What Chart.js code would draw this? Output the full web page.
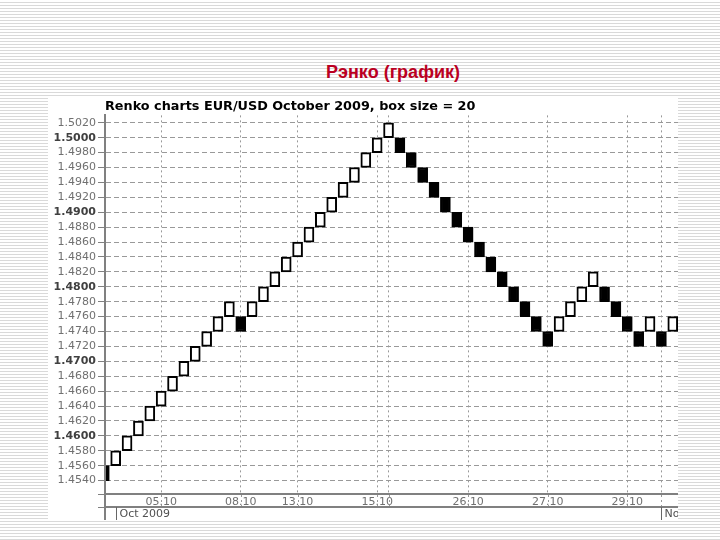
<!DOCTYPE html>
<html>
<head>
<meta charset="utf-8">
<title>Рэнко (график)</title>
<script src="https://cdn.jsdelivr.net/npm/chart.js@4.4.1/dist/chart.umd.min.js"></script>
<style>
  html, body { margin: 0; padding: 0; }
  body {
    width: 720px;
    height: 540px;
    position: relative;
    overflow: hidden;
    background: repeating-linear-gradient(to bottom, #ffffff 0px, #ffffff 2px, #d9d9d9 2px, #d9d9d9 3px);
    font-family: "Liberation Sans", Arial, sans-serif;
  }
  #slideTitle {
    position: absolute;
    left: 243px;
    width: 300px;
    top: 62px;
    line-height: 20px;
    text-align: center;
    font-size: 18px;
    font-weight: bold;
    color: #bb0022;
  }
  #renko {
    position: absolute;
    left: 48px;
    top: 98px;
    background: #ffffff;
  }
</style>
</head>
<body>
<div id="slideTitle">Рэнко (график)</div>
<canvas id="renko" width="630" height="422"></canvas>
<script>
// Renko bricks, left to right: price where each brick starts and ends
const brickOpen = [
  1.4560, 1.4560, 1.4580, 1.4600, 1.4620, 1.4640, 1.4660, 1.4680, 1.4700, 1.4720,
  1.4740, 1.4760, 1.4760, 1.4760, 1.4780, 1.4800, 1.4820, 1.4840, 1.4860, 1.4880,
  1.4900, 1.4920, 1.4940, 1.4960, 1.4980, 1.5000, 1.5000, 1.4980, 1.4960, 1.4940,
  1.4920, 1.4900, 1.4880, 1.4860, 1.4840, 1.4820, 1.4800, 1.4780, 1.4760, 1.4740,
  1.4740, 1.4760, 1.4780, 1.4800, 1.4800, 1.4780, 1.4760, 1.4740, 1.4740, 1.4740,
  1.4740
];
const brickClose = [
  1.4540, 1.4580, 1.4600, 1.4620, 1.4640, 1.4660, 1.4680, 1.4700, 1.4720, 1.4740,
  1.4760, 1.4780, 1.4740, 1.4780, 1.4800, 1.4820, 1.4840, 1.4860, 1.4880, 1.4900,
  1.4920, 1.4940, 1.4960, 1.4980, 1.5000, 1.5020, 1.4980, 1.4960, 1.4940, 1.4920,
  1.4900, 1.4880, 1.4860, 1.4840, 1.4820, 1.4800, 1.4780, 1.4760, 1.4740, 1.4720,
  1.4760, 1.4780, 1.4800, 1.4820, 1.4780, 1.4760, 1.4740, 1.4720, 1.4760, 1.4720,
  1.4760
];

// price ticks on the left axis
const yTicks = [
  1.4540, 1.4560, 1.4580, 1.4600, 1.4620, 1.4640, 1.4660, 1.4680, 1.4700,
  1.4720, 1.4740, 1.4760, 1.4780, 1.4800, 1.4820, 1.4840, 1.4860, 1.4880,
  1.4900, 1.4920, 1.4940, 1.4960, 1.4980, 1.5000, 1.5020
];

// date gridlines (brick index) and their labels
const xTickIdx = [5, 12, 17, 24, 25, 32, 39, 46, 49];
const xTickLabels = ['05.10', '08.10', '13.10', '15.10', '', '26.10', '27.10', '29.10', ''];

// month band under the dates
const monthStart = [1, 49];
const monthLabels = ['Oct 2009', 'Nov 2009'];

const axisGray = '#808080';
const labelFont = 'DejaVu Sans';

// round numbers (1.4600, 1.4700...) are printed bold
function isRound(ctx) {
  return !!ctx.tick && Math.round(ctx.tick.value * 10000) % 100 === 0;
}

// second row of the time axis (month names) and the small pieces around it
const monthBand = {
  id: 'monthBand',
  afterDraw(chart) {
    const ctx = chart.ctx;
    const area = chart.chartArea;
    const x = chart.scales.x;
    const h = chart.height;
    const bandTop = area.bottom + 13;

    ctx.save();
    // dotted date lines running through the label row
    ctx.strokeStyle = '#999999';
    ctx.lineWidth = 1;
    ctx.setLineDash([2, 3]);
    xTickIdx.forEach(v => {
      const px = Math.round(x.getPixelForValue(v)) + 0.5;
      ctx.beginPath();
      ctx.moveTo(px, area.bottom + 1);
      ctx.lineTo(px, bandTop);
      ctx.stroke();
    });
    ctx.setLineDash([]);

    // line under the dates and the y axis carried down
    ctx.strokeStyle = axisGray;
    ctx.lineWidth = 2;
    ctx.beginPath();
    ctx.moveTo(area.left, bandTop);
    ctx.lineTo(area.right, bandTop);
    ctx.moveTo(area.left, area.bottom);
    ctx.lineTo(area.left, h);
    ctx.stroke();

    // little ticks left of the axis for both rows
    ctx.lineWidth = 1;
    ctx.beginPath();
    [area.bottom, bandTop].forEach(y => {
      ctx.moveTo(area.left - 7, Math.round(y) + 0.5);
      ctx.lineTo(area.left, Math.round(y) + 0.5);
    });
    ctx.stroke();

    // month separators and names
    ctx.strokeStyle = '#666666';
    ctx.fillStyle = '#505050';
    ctx.font = '11px "' + labelFont + '"';
    ctx.textBaseline = 'middle';
    ctx.textAlign = 'left';
    monthStart.forEach((v, i) => {
      const px = Math.round(x.getPixelForValue(v)) + 0.5;
      ctx.beginPath();
      ctx.moveTo(px, bandTop);
      ctx.lineTo(px, h);
      ctx.stroke();
      ctx.fillText(monthLabels[i], px + 3, (bandTop + h) / 2 + 1);
    });
    ctx.restore();
  }
};

const bricks = brickOpen.map((o, i) => ({ x: i, y: [o, brickClose[i]] }));
const brickFill = brickOpen.map((o, i) => (brickClose[i] > o ? '#ffffff' : '#000000'));

new Chart(document.getElementById('renko'), {
  type: 'bar',
  data: {
    datasets: [{
      data: bricks,
      backgroundColor: brickFill,
      borderColor: '#000000',
      borderWidth: 2,
      borderSkipped: false,
      barThickness: 10,
      clip: 0
    }]
  },
  options: {
    responsive: false,
    animation: false,
    layout: { padding: 0 },
    plugins: {
      legend: { display: false },
      tooltip: { enabled: false },
      title: {
        display: true,
        text: 'Renko charts EUR/USD October 2009, box size = 20',
        align: 'start',
        fullSize: false,
        color: '#000000',
        font: { family: labelFont, size: 12.8, weight: 'bold' },
        padding: { top: 1, bottom: 1 }
      }
    },
    scales: {
      x: {
        type: 'linear',
        min: 0.06,
        max: 50.46,
        bounds: 'data',
        offset: false,
        grid: { color: '#999999', drawTicks: false, offset: false },
        border: { color: axisGray, width: 2, dash: [2, 3], z: 1 },
        ticks: {
          color: '#707070',
          font: { family: labelFont, size: 11 },
          padding: 2,
          maxRotation: 0,
          autoSkip: false,
          callback: (value, index) => xTickLabels[index]
        },
        afterBuildTicks: scale => {
          scale.ticks = xTickIdx.map(v => ({ value: v }));
        },
        afterFit: scale => { scale.height = 26; }
      },
      y: {
        type: 'linear',
        min: 1.4522,
        max: 1.5030,
        bounds: 'data',
        beginAtZero: false,
        grid: {
          color: '#999999',
          tickColor: axisGray,
          tickLength: 7,
          tickBorderDash: []
        },
        border: { color: axisGray, width: 2, dash: [5, 3], z: 1 },
        ticks: {
          padding: 2,
          autoSkip: false,
          color: ctx => (isRound(ctx) ? '#404040' : '#707070'),
          font: ctx => ({
            family: labelFont,
            size: 11,
            weight: isRound(ctx) ? 'bold' : 'normal'
          }),
          callback: value => value.toFixed(4)
        },
        afterBuildTicks: scale => {
          scale.ticks = yTicks.map(v => ({ value: v }));
        },
        afterFit: scale => { scale.width = 57; }
      }
    }
  },
  plugins: [monthBand]
});
</script>
</body>
</html>
